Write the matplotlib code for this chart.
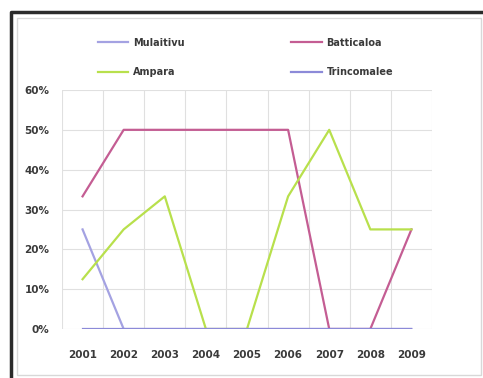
import matplotlib.pyplot as plt
from matplotlib.patches import Rectangle
from matplotlib.lines import Line2D
from matplotlib.ticker import FuncFormatter, MultipleLocator

years = ['2001', '2002', '2003', '2004', '2005', '2006', '2007', '2008', '2009']
mulaitivu = [25, 0, 0, 0, 0, 0, 0, 0, 0]
batticaloa = [33.3, 50, 50, 50, 50, 50, 0, 0, 25]
ampara = [12.5, 25, 33.3, 0, 0, 33.3, 50, 25, 25]
trincomalee = [0, 0, 0, 0, 0, 0, 0, 0, 0]

fig = plt.figure(figsize=(4.83, 3.78), dpi=100)
ax = fig.add_axes([62/483, 1-329/378, 370/483, 239/378])

x = range(len(years))
l_m, = ax.plot(x, mulaitivu, color='#a4a2e2', lw=1.6, label='Mulaitivu')
l_b, = ax.plot(x, batticaloa, color='#c45d93', lw=1.6, label='Batticaloa')
l_a, = ax.plot(x, ampara, color='#b8e04c', lw=1.6, label='Ampara')
l_t, = ax.plot(x, trincomalee, color='#8c8ad8', lw=1.6, label='Trincomalee')

ax.set_xlim(-0.5, len(years)-0.5)
ax.set_ylim(0, 60)
ax.yaxis.set_major_locator(MultipleLocator(10))
ax.yaxis.set_major_formatter(FuncFormatter(lambda v, p: f'{int(v)}%'))
ax.set_xticks(list(x))
ax.set_xticklabels(years)
ax.set_xticks([i + 0.5 for i in range(-1, len(years))], minor=True)
ax.grid(True, axis='y', color='#e0e0e0', lw=0.8)
ax.grid(True, axis='x', which='minor', color='#e0e0e0', lw=0.8)
ax.set_axisbelow(True)
for s in ax.spines.values():
    s.set_visible(False)
ax.tick_params(which='both', length=0)
ax.tick_params(axis='x', pad=15)
ax.tick_params(axis='y', pad=9)
for t in ax.get_xticklabels() + ax.get_yticklabels():
    t.set_fontsize(7.5)
    t.set_fontweight('bold')
    t.set_color('#3a3a3a')

leg = fig.legend([l_m, l_a, l_b, l_t], ['Mulaitivu', 'Ampara', 'Batticaloa', 'Trincomalee'],
                 ncol=2, loc='upper left', bbox_to_anchor=(93/483, 1-33/378),
                 frameon=False, handlelength=3.1, handletextpad=0.5,
                 columnspacing=11.0, labelspacing=2.0, borderpad=0,
                 prop={'size': 7, 'weight': 'bold'})
for t in leg.get_texts():
    t.set_color('#3a3a3a')

# outer frame
fig.patches.append(Rectangle((17/483, 3/378), 464/483, 357/378, transform=fig.transFigure,
                             fill=False, ec='#d8d8d8', lw=1))
fig.lines.append(Line2D([11/483, 11/483, 1], [0, 1-12/378, 1-12/378], transform=fig.transFigure,
                        color='#2a2a2a', lw=2.5, solid_capstyle='butt'))

fig.savefig('out.png', dpi=100)
